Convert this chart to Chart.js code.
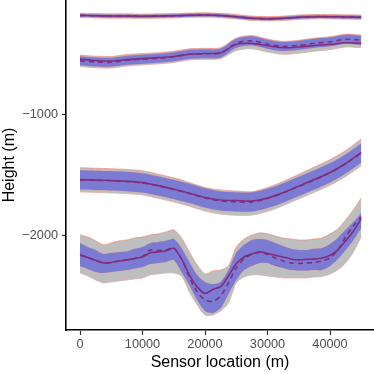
<!DOCTYPE html>
<html>
<head>
<meta charset="utf-8">
<script src="https://cdn.jsdelivr.net/npm/chart.js@4"></script>
<style>
    html, body { margin: 0; padding: 0; background: #fff; }
    #wrap { width: 374px; height: 374px; }
</style>
</head>
<body>
<div id="wrap"><canvas id="chart" width="374" height="374"></canvas></div>
<script>
// sensor locations (m)
const xs = [0, 2500, 5000, 7500, 10000, 12500, 15000, 17500, 20000, 22500,
    25000, 27500, 30000, 32500, 35000, 37500, 40000, 42500, 45000];
const xsFine = [0, 1250, 2500, 3750, 5000, 6250, 7500, 8750, 10000, 11250,
    12500, 13750, 15000, 16250, 17500, 18750, 20000, 21250, 22500, 23750,
    25000, 26250, 27500, 28750, 30000, 31250, 32500, 33750, 35000, 36250,
    37500, 38750, 40000, 41250, 42500, 43750, 45000];

const xTicks = [0, 10000, 20000, 30000, 40000];
const yTicks = [-2000, -1000];

// layer 1 (top)
const true1 = [-179, -182, -184, -184, -186, -184, -182, -178, -176, -180, -190, -203, -207, -203, -194, -190, -190, -192, -194];
const mean1 = [-179, -182, -184, -184, -186, -184, -182, -178, -176, -180, -190, -203, -207, -203, -194, -190, -190, -192, -194];
const innerHi1 = [-167, -170, -172, -172, -174, -172, -170, -166, -164, -168, -178, -191, -195, -191, -182, -178, -178, -180, -182];
const innerLo1 = [-191, -194, -196, -196, -198, -196, -194, -190, -188, -192, -202, -215, -219, -215, -206, -202, -202, -204, -206];
const outerHi1 = [-161, -164, -166, -166, -168, -166, -164, -160, -158, -162, -172, -185, -189, -185, -176, -172, -172, -174, -176];
const outerLo1 = [-197, -200, -202, -202, -204, -202, -200, -196, -194, -198, -208, -221, -225, -221, -212, -208, -208, -210, -212];

// layer 2
const true2 = [-540, -552, -556, -544, -536, -528, -518, -500, -494, -488, -418, -410, -430, -446, -440, -428, -418, -405, -410];
const mean2 = [-554, -564, -566, -550, -541, -533, -521, -500, -496, -490, -409, -388, -417, -436, -426, -409, -397, -376, -384];
const innerHi2 = [-517, -527, -529, -513, -504, -496, -484, -463, -459, -453, -372, -351, -380, -399, -389, -372, -360, -339, -347];
const innerLo2 = [-591, -601, -603, -587, -578, -570, -558, -537, -533, -527, -446, -425, -454, -473, -463, -446, -434, -413, -421];
const outerHi2 = [-506, -516, -518, -502, -494, -487, -475, -455, -451, -446, -366, -346, -375, -394, -384, -367, -355, -334, -342];
const outerLo2 = [-602, -612, -614, -598, -588, -580, -568, -547, -542, -536, -470, -455, -482, -500, -492, -475, -462, -440, -446];

// layer 3
const true3 = [-1535, -1539, -1543, -1549, -1560, -1585, -1614, -1647, -1683, -1703, -1708, -1712, -1688, -1643, -1589, -1535, -1477, -1402, -1310];
const mean3 = [-1537, -1541, -1545, -1551, -1562, -1587, -1616, -1649, -1686, -1711, -1719, -1719, -1690, -1645, -1591, -1537, -1479, -1405, -1314];
const innerHi3 = [-1457, -1461, -1465, -1471, -1482, -1507, -1536, -1569, -1606, -1631, -1639, -1639, -1610, -1565, -1511, -1457, -1399, -1325, -1234];
const innerLo3 = [-1617, -1621, -1625, -1631, -1642, -1667, -1696, -1729, -1766, -1791, -1799, -1799, -1770, -1725, -1671, -1617, -1559, -1485, -1394];
const outerHi3 = [-1437, -1441, -1445, -1451, -1462, -1490, -1520, -1560, -1600, -1620, -1630, -1635, -1600, -1550, -1491, -1432, -1370, -1295, -1200];
const outerLo3 = [-1637, -1641, -1645, -1651, -1662, -1690, -1720, -1755, -1795, -1820, -1830, -1828, -1798, -1750, -1695, -1640, -1582, -1510, -1420];

// layer 4 (bottom), finer spacing
const true4 = [-2157, -2178, -2202, -2223, -2219, -2207, -2198, -2186, -2174, -2140, -2132, -2124, -2103, -2190, -2322, -2421, -2475, -2442, -2419, -2331,
    -2231, -2174, -2149, -2132, -2145, -2161, -2174, -2190, -2198, -2194, -2190, -2182, -2161, -2116, -2041, -1959, -1860];
const mean4 = [-2157, -2178, -2202, -2223, -2219, -2207, -2198, -2186, -2170, -2116, -2120, -2116, -2099, -2190, -2339, -2463, -2529, -2541, -2496, -2388,
    -2264, -2190, -2149, -2136, -2153, -2182, -2207, -2223, -2227, -2223, -2219, -2207, -2182, -2116, -2008, -1917, -1843];
const innerHi4 = [-2058, -2091, -2116, -2149, -2140, -2132, -2128, -2107, -2091, -2058, -2050, -2041, -2025, -2099, -2215, -2322, -2380, -2397, -2380, -2281,
    -2140, -2074, -2033, -2025, -2033, -2058, -2083, -2107, -2116, -2116, -2107, -2099, -2066, -2017, -1950, -1884, -1810];
const innerLo4 = [-2248, -2273, -2298, -2306, -2298, -2289, -2281, -2269, -2256, -2231, -2223, -2215, -2198, -2298, -2405, -2529, -2620, -2636, -2595, -2479,
    -2364, -2281, -2248, -2223, -2223, -2248, -2264, -2281, -2285, -2285, -2281, -2281, -2248, -2190, -2116, -2033, -1934];
const outerHi4 = [-1992, -2008, -2041, -2074, -2058, -2041, -2033, -2017, -2008, -1992, -1983, -1967, -1950, -2017, -2132, -2240, -2314, -2289, -2281, -2248,
    -2091, -2025, -1992, -1975, -1983, -2000, -2017, -2025, -2033, -2033, -2025, -2017, -1983, -1942, -1868, -1785, -1686];
const outerLo4 = [-2306, -2331, -2364, -2388, -2380, -2372, -2364, -2355, -2347, -2322, -2314, -2306, -2306, -2331, -2463, -2570, -2653, -2653, -2620, -2554,
    -2388, -2339, -2322, -2322, -2331, -2339, -2347, -2347, -2347, -2347, -2339, -2335, -2314, -2281, -2223, -2132, -2008];

const FONT = '"Liberation Sans", Arial, Helvetica, sans-serif';
const GRAY_FILL = '#bebebe';
const BAND_EDGE = 'rgba(245, 120, 105, 0.55)';
const BLUE_FILL = 'rgba(0, 0, 255, 0.35)';
const RED = '#c4463a';

function pts(x, y) {
    return x.map((v, i) => ({ x: v, y: y[i] }));
}

function layer(x, outerHi, outerLo, truth, mean, innerHi, innerLo, tension) {
    const base = { pointRadius: 0, tension: tension };
    return [
        { ...base, data: pts(x, outerHi), borderColor: BAND_EDGE, borderWidth: 1, backgroundColor: GRAY_FILL, fill: '+1', order: 3 },
        { ...base, data: pts(x, outerLo), borderColor: BAND_EDGE, borderWidth: 1, fill: false, order: 3 },
        { ...base, data: pts(x, truth), borderColor: RED, borderWidth: 1.6, fill: false, order: 2 },
        { ...base, data: pts(x, mean), borderColor: RED, borderWidth: 1.6, borderDash: [5, 4], fill: false, order: 2 },
        { ...base, data: pts(x, innerHi), borderColor: 'rgba(245, 120, 105, 0.3)', borderWidth: 0.8, backgroundColor: BLUE_FILL, fill: '+1', order: 1 },
        { ...base, data: pts(x, innerLo), borderColor: 'rgba(245, 120, 105, 0.3)', borderWidth: 0.8, fill: false, order: 1 }
    ];
}

const datasets = [
    ...layer(xs, outerHi1, outerLo1, true1, mean1, innerHi1, innerLo1, 0.3),
    ...layer(xs, outerHi2, outerLo2, true2, mean2, innerHi2, innerLo2, 0.3),
    ...layer(xs, outerHi3, outerLo3, true3, mean3, innerHi3, innerLo3, 0.3),
    ...layer(xsFine, outerHi4, outerLo4, true4, mean4, innerHi4, innerLo4, 0.25)
];

const ctx = document.getElementById('chart').getContext('2d');
new Chart(ctx, {
    type: 'line',
    data: { datasets: datasets },
    options: {
        responsive: false,
        animation: false,
        layout: { padding: 0 },
        plugins: {
            legend: { display: false },
            tooltip: { enabled: false }
        },
        scales: {
            x: {
                type: 'linear',
                min: -2240,
                max: 47040,
                afterFit: (s) => { s.height = 44; s.paddingLeft = 0; s.paddingRight = 0; },
                afterBuildTicks: (s) => { s.ticks = xTicks.map(v => ({ value: v })); },
                ticks: {
                    color: '#4d4d4d',
                    padding: 2,
                    maxRotation: 0,
                    font: { family: FONT, size: 12.7 },
                    callback: (v) => String(v)
                },
                grid: { drawOnChartArea: false, drawTicks: true, tickLength: 5, tickColor: '#333', tickWidth: 1.2 },
                border: { display: true, color: '#000', width: 1.6 },
                title: {
                    display: true,
                    text: 'Sensor location (m)',
                    color: '#000',
                    font: { family: FONT, size: 16 },
                    padding: { top: 0, bottom: 2 }
                }
            },
            y: {
                type: 'linear',
                min: -2777,
                max: -52,
                afterFit: (s) => { s.width = 66; s.paddingTop = 0; s.paddingBottom = 0; },
                afterBuildTicks: (s) => { s.ticks = yTicks.map(v => ({ value: v })); },
                ticks: {
                    color: '#4d4d4d',
                    padding: 4,
                    font: { family: FONT, size: 12.7 },
                    callback: (v) => String(v).replace('-', '\u2212')
                },
                grid: { drawOnChartArea: false, drawTicks: true, tickLength: 4, tickColor: '#333', tickWidth: 1.2 },
                border: { display: true, color: '#000', width: 1.6 },
                title: {
                    display: true,
                    text: 'Height (m)',
                    color: '#000',
                    font: { family: FONT, size: 16 },
                    padding: { top: 0, bottom: 0 }
                }
            }
        }
    }
});
</script>
</body>
</html>
